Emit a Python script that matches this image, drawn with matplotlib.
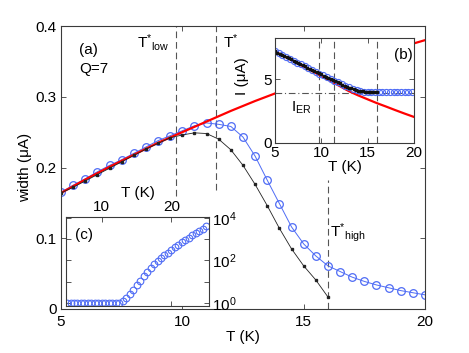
import matplotlib
matplotlib.use('Agg')
import matplotlib.pyplot as plt
from matplotlib.ticker import FixedLocator, FixedFormatter, NullLocator

plt.rcParams['font.family'] = ['Liberation Sans', 'DejaVu Sans']
plt.rcParams['mathtext.fontset'] = 'custom'
plt.rcParams['mathtext.rm'] = 'Liberation Sans'
plt.rcParams['mathtext.it'] = 'Liberation Sans:italic'
plt.rcParams['mathtext.bf'] = 'Liberation Sans:bold'
plt.rcParams['font.size'] = 11

# ---------------- data: main panel (a) ----------------
T_blue = [5.0, 5.5, 6.0, 6.5, 7.0, 7.5, 8.0, 8.5, 9.0, 9.5, 10.0, 10.5, 11.0, 11.5,
          12.0, 12.5, 13.0, 13.5, 14.0, 14.5, 15.0, 15.5, 16.0, 16.5, 17.0, 17.5,
          18.0, 18.5, 19.0, 19.5, 20.0]
w_blue = [0.165, 0.175, 0.184, 0.194, 0.203, 0.211, 0.220, 0.229, 0.238, 0.245,
          0.252, 0.259, 0.263, 0.261, 0.258, 0.243, 0.216, 0.182, 0.149, 0.116,
          0.092, 0.075, 0.061, 0.053, 0.045, 0.039, 0.034, 0.030, 0.026, 0.023, 0.020]
T_black = [5.0, 5.5, 6.0, 6.5, 7.0, 7.5, 8.0, 8.5, 9.0, 9.5, 10.0, 10.5, 11.0, 11.5,
           12.0, 12.5, 13.0, 13.5, 14.0, 14.5, 15.0, 15.5, 16.0]
w_black = [0.164, 0.172, 0.181, 0.190, 0.199, 0.208, 0.217, 0.226, 0.234, 0.242,
           0.246, 0.249, 0.248, 0.240, 0.225, 0.203, 0.176, 0.146, 0.114, 0.085,
           0.061, 0.041, 0.017]
T_red = [5, 6, 7, 8, 9, 10, 11, 12, 13, 14, 15, 16, 17, 18, 19, 20]
w_red = [0.164, 0.183, 0.201, 0.218, 0.235, 0.250, 0.265, 0.280, 0.294, 0.307,
         0.320, 0.333, 0.346, 0.358, 0.370, 0.380]
T_star = [9.75, 11.4, 16.0]   # T*_low, T*, T*_high

# ---------------- data: inset (b) ----------------
Tb_blue = [5.0, 5.4, 5.8, 6.2, 6.6, 7.0, 7.4, 7.8, 8.2, 8.6, 9.0, 9.4, 9.8, 10.2,
           10.6, 11.0, 11.4, 11.8, 12.2, 12.6, 13.0, 13.4, 13.8, 14.2, 14.6, 15.0,
           15.4, 15.8, 16.2, 16.6, 17.0, 17.4, 17.8, 18.2, 18.6, 19.0, 19.4, 19.8]
Ib_blue = [7.17, 7.02, 6.87, 6.73, 6.58, 6.44, 6.29, 6.15, 6.00, 5.86, 5.72, 5.57,
           5.43, 5.29, 5.15, 5.01, 4.87, 4.74, 4.60, 4.47, 4.35, 4.24, 4.15, 4.08,
           4.03, 4.00, 3.98, 3.97, 3.97, 3.97, 3.97, 3.97, 3.97, 3.97, 3.97, 3.97,
           3.97, 3.97]
Tb_black = [5.0, 5.25, 5.5, 5.75, 6.0, 6.25, 6.5, 6.75, 7.0, 7.25, 7.5, 7.75, 8.0,
            8.25, 8.5, 8.75, 9.0, 9.25, 9.5, 9.75, 10.0, 10.25, 10.5, 10.75, 11.0,
            11.25, 11.5, 11.75, 12.0, 12.25, 12.5, 12.75, 13.0, 13.25, 13.5, 13.75,
            14.0, 14.25, 14.5, 14.75, 15.0, 15.25, 15.5, 15.75, 16.0]
Ib_black = [7.17, 7.08, 6.99, 6.90, 6.81, 6.72, 6.63, 6.54, 6.45, 6.36, 6.27, 6.18,
            6.09, 6.00, 5.91, 5.82, 5.73, 5.64, 5.55, 5.46, 5.37, 5.28, 5.19, 5.10,
            5.01, 4.92, 4.83, 4.74, 4.66, 4.57, 4.49, 4.41, 4.34, 4.27, 4.21, 4.16,
            4.11, 4.07, 4.04, 4.01, 3.99, 3.98, 3.97, 3.96, 3.96]
Tb_red = [5, 7, 9, 11, 12, 13, 14, 15, 16, 17, 18, 19, 20]
Ib_red = [7.17, 6.40, 5.63, 4.85, 4.45, 4.05, 3.72, 3.42, 3.12, 2.85, 2.57, 2.30, 2.04]
I_ER = 3.92

# ---------------- data: inset (c) ----------------
Tc = [5.0, 5.5, 6.0, 6.5, 7.0, 7.5, 8.0, 8.5, 9.0, 9.5, 10.0, 10.5, 11.0, 11.5, 12.0,
      12.5, 13.0, 13.5, 14.0, 14.5, 15.0, 15.5, 16.0, 16.5, 17.0, 17.5, 18.0, 18.5,
      19.0, 19.5, 20.0, 20.5, 21.0, 21.5, 22.0, 22.5, 23.0, 23.5, 24.0, 24.5, 25.0]
Vc = [1.0, 1.0, 1.0, 1.0, 1.0, 1.0, 1.0, 1.0, 1.0, 1.0, 1.0, 1.0, 1.0, 1.0, 1.0,
      1.05, 1.2, 1.74, 2.6, 4.2, 6.8, 11, 18, 30, 46, 69, 95, 129, 174, 229, 302,
      417, 550, 708, 912, 1175, 1549, 1995, 2570, 3162, 3981]

BLUE = '#4f6cf5'
GRAY = '#3a3a3a'
W, H = 469, 353

fig = plt.figure(figsize=(W / 100, H / 100), dpi=100)


def style(ax):
    for s in ax.spines.values():
        s.set_color(GRAY)
        s.set_linewidth(0.8)
    ax.tick_params(which='both', direction='in', top=True, right=True,
                   length=3.5, width=0.6, color=GRAY, labelsize=11, pad=4)


# ---------------- main axes ----------------
ax = fig.add_axes([61 / W, 1 - 309 / H, 364 / W, 283 / H])
style(ax)
ax.set_xlim(5, 20)
ax.set_ylim(0, 0.4)
ax.xaxis.set_major_locator(FixedLocator([5, 10, 15, 20]))
ax.yaxis.set_major_locator(FixedLocator([0, 0.1, 0.2, 0.3, 0.4]))
ax.yaxis.set_major_formatter(FixedFormatter(['0', '0.1', '0.2', '0.3', '0.4']))
ax.tick_params(axis='x', pad=4)
ax.tick_params(axis='y', pad=3)

dash = dict(color='#555555', lw=0.8, linestyle=(0, (6, 3.5)))
ax.plot([T_star[0]] * 2, [0.16, 0.4], **dash)
ax.plot([T_star[1]] * 2, [0.168, 0.4], **dash)
ax.plot([T_star[2]] * 2, [0.0, 0.182], **dash)

ax.plot(T_blue, w_blue, '-o', color=BLUE, lw=0.7, ms=5.5, mfc='none', mew=0.9)
ax.plot(T_red, w_red, '-', color='#ff0000', lw=1.6)
ax.plot(T_black, w_black, '-s', color='#222222', lw=0.6, ms=2.0)

ax.set_xlabel('T (K)', labelpad=1)
ax.set_ylabel('width (μA)', labelpad=3)

ax.text(5.74, 0.366, '(a)', ha='left', va='center')
ax.text(5.74, 0.339, 'Q=7', ha='left', va='center')
ax.text(8.13, 0.369, r'T$^{*}$$_{\mathrm{low}}$', ha='left', va='baseline')
ax.text(11.66, 0.369, r'T$^{*}$', ha='left', va='baseline')
ax.text(16.08, 0.102, r'T$^{*}$$_{\mathrm{high}}$', ha='left', va='baseline')

# ---------------- inset (b) ----------------
axb = fig.add_axes([275 / W, 1 - 143 / H, 139 / W, 104.7 / H])
style(axb)
axb.set_xlim(5, 20)
axb.set_ylim(0, 8.2)
axb.xaxis.set_major_locator(FixedLocator([5, 10, 15, 20]))
axb.yaxis.set_major_locator(FixedLocator([0, 5]))
axb.tick_params(pad=2.5)
for t in T_star:
    axb.axvline(t, **dash)
axb.plot([5, 20], [I_ER, I_ER], color='#555555', lw=0.8, linestyle=(0, (6, 2.5, 1, 2.5)))
axb.plot(Tb_red, Ib_red, '-', color='#ff0000', lw=1.6)
axb.plot(Tb_blue, Ib_blue, 'o', color=BLUE, ms=4.4, mfc='none', mew=0.8)
axb.plot(Tb_black, Ib_black, 's', color='#111111', ms=1.5)
axb.set_xlabel('T (K)', labelpad=0)
axb.set_ylabel('I (μA)', labelpad=1)
axb.yaxis.set_label_coords(-0.19, 0.64)
axb.text(18.8, 6.9, '(b)', ha='center', va='center')
axb.text(6.7, 2.43, r'I$_{\mathrm{ER}}$', ha='left', va='baseline')

# ---------------- inset (c) ----------------
axc = fig.add_axes([66 / W, 1 - 306 / H, 143 / W, 89.3 / H])
style(axc)
axc.set_yscale('log')
axc.set_xlim(4.85, 25.4)
axc.set_ylim(0.72, 1.15e4)
axc.xaxis.set_major_locator(FixedLocator([10, 20]))
axc.yaxis.set_major_locator(FixedLocator([1, 10, 100, 1e3, 1e4]))
axc.yaxis.set_major_formatter(FixedFormatter([r'$10^0$', '', r'$10^2$', '', r'$10^4$']))
axc.yaxis.set_minor_locator(NullLocator())
axc.tick_params(labelbottom=False, labeltop=True, labelleft=False, labelright=True, pad=2)
axc.xaxis.set_label_position('top')
axc.plot(Tc, Vc, 'o', color=BLUE, ms=4.8, mfc='none', mew=0.8)
axc.set_xlabel('T (K)', labelpad=2)
axc.text(0.06, 0.79, '(c)', transform=axc.transAxes, ha='left', va='center')

fig.savefig('out.png', dpi=100)
